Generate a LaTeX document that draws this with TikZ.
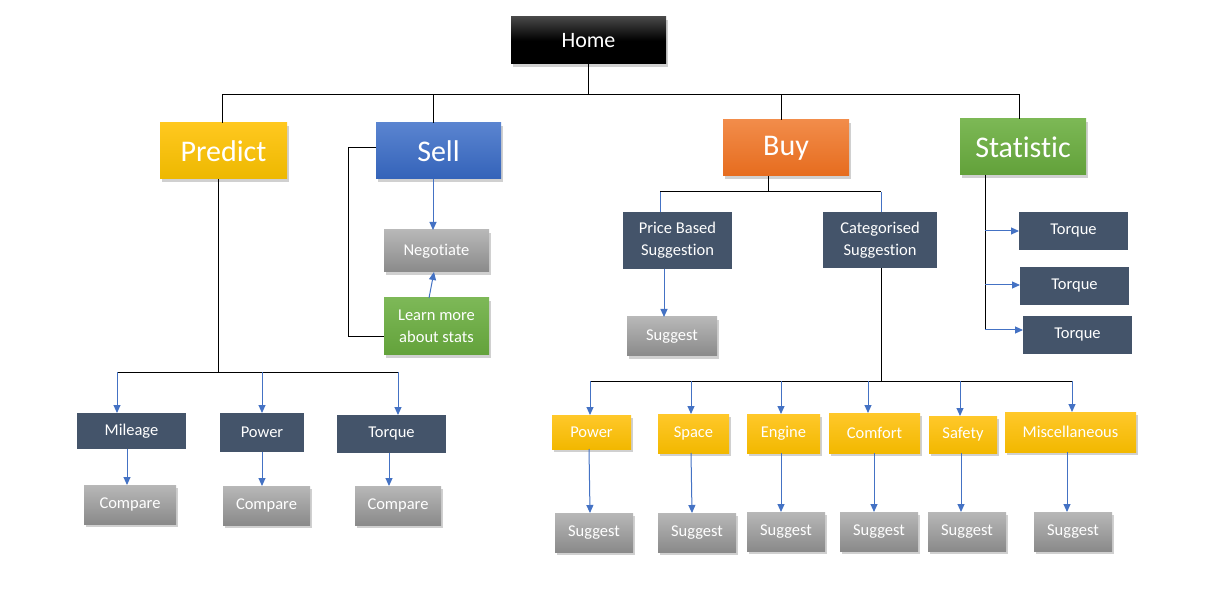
\documentclass[tikz,border=0pt]{standalone}
\usepackage{fontspec}
\setmainfont{Carlito}[Ligatures=NoCommon]
\usetikzlibrary{shadows,arrows.meta}
\definecolor{slate}{HTML}{44546A}
\definecolor{arrowblue}{HTML}{4472C4}
\newcommand\mknode[7]{\node[#2, minimum width={(#5-#3)*1pt}, minimum height={(#6-#4)*1pt}] (#1) at ({(#3+#5)/2},{(#4+#6)/2}) {#7};}
\definecolor{yelT}{HTML}{FFC81F}
\definecolor{yelB}{HTML}{EDB800}
\definecolor{ysT}{HTML}{FFC82A}
\definecolor{ysB}{HTML}{F2B800}
\definecolor{lgT}{HTML}{7DB857}
\definecolor{lgB}{HTML}{63A23B}
\definecolor{blueT}{HTML}{5A84D0}
\definecolor{blueB}{HTML}{3463B9}
\definecolor{orangeT}{HTML}{F28C4A}
\definecolor{orangeB}{HTML}{E66C1E}
\definecolor{greenT}{HTML}{7CB855}
\definecolor{greenB}{HTML}{62A13A}
\tikzset{
  base/.style={inner sep=0pt, outer sep=0pt, text=white, align=center},
  shad/.style={drop shadow={shadow xshift=2pt, shadow yshift=-3pt, opacity=0.3, fill=black!60}},
  homebox/.style={base, shad, top color=black!72, bottom color=black, middle color=black, font=\fontsize{22}{26}\selectfont},
  bigbox/.style={base, shad, font=\fontsize{30}{34}\selectfont},
  slatebox/.style={base, fill=slate, font=\fontsize{16.5}{22}\selectfont},
  graybox/.style={base, shad, top color=black!28, bottom color=black!46, font=\fontsize{16.5}{22}\selectfont},
  ybox/.style={base, shad, top color=ysT, bottom color=ysB, font=\fontsize{16.5}{22}\selectfont},
  gbox/.style={base, shad, top color=lgT, bottom color=lgB, font=\fontsize{16.5}{22}\selectfont},
  conn/.style={draw=black, line width=1pt},
  bconn/.style={draw=arrowblue, line width=1pt},
  arr/.style={draw=arrowblue, line width=1pt, -{Triangle[length=8pt,width=7pt]}},
}
\begin{document}
\begin{tikzpicture}[x=1pt,y=-1pt]
\fill[white] (0,0) rectangle (1215,601);
\useasboundingbox (0,0) rectangle (1215,601);

% level 0 and 1
\mknode{home}{homebox}{511}{17}{666}{64}{Home}
\mknode{predict}{bigbox, top color=yelT, bottom color=yelB}{160}{123}{287}{179}{Predict}
\mknode{sell}{bigbox, top color=blueT, bottom color=blueB}{376}{123}{501}{179}{Sell}
\mknode{buy}{bigbox, top color=orangeT, bottom color=orangeB}{723}{120}{849}{176}{Buy}
\mknode{statistic}{bigbox, top color=greenT, bottom color=greenB}{960}{119}{1086}{175}{Statistic}

% Predict subtree
\mknode{mileage}{slatebox}{77}{413}{186}{449}{Mileage}
\mknode{ppower}{slatebox}{220}{413}{304}{452}{Power}
\mknode{ptorque}{slatebox}{337}{415}{446}{453}{Torque}
\mknode{cmp1}{graybox}{84}{485}{176}{524}{Compare}
\mknode{cmp2}{graybox}{223}{486}{310}{525}{Compare}
\mknode{cmp3}{graybox}{355}{486}{441}{525}{Compare}

% Sell subtree
\mknode{negotiate}{graybox}{384}{230}{489}{272}{Negotiate}
\mknode{learn}{gbox}{384}{298}{489}{355}{Learn more\\about stats}

% Buy subtree
\mknode{price}{slatebox}{623}{212}{732}{269}{Price Based\\Suggestion}
\mknode{cat}{slatebox}{823}{212}{937}{268}{Categorised\\Suggestion}
\mknode{psug}{graybox}{627}{317}{717}{356}{Suggest}
\mknode{cpower}{ybox}{552}{415}{631}{449}{Power}
\mknode{space}{ybox}{658}{414}{729}{453}{Space}
\mknode{engine}{ybox}{747}{414}{820}{453}{Engine}
\mknode{comfort}{ybox}{829}{413}{920}{453}{Comfort}
\mknode{safety}{ybox}{929}{416}{997}{453}{Safety}
\mknode{misc}{ybox}{1005}{412}{1136}{452}{Miscellaneous}
\mknode{s1}{graybox}{555}{513}{633}{552}{Suggest}
\mknode{s2}{graybox}{658}{513}{736}{552}{Suggest}
\mknode{s3}{graybox}{747}{512}{825}{551}{Suggest}
\mknode{s4}{graybox}{840}{512}{918}{551}{Suggest}
\mknode{s5}{graybox}{928}{512}{1006}{551}{Suggest}
\mknode{s6}{graybox}{1034}{512}{1112}{551}{Suggest}

% Statistic subtree
\mknode{t1}{slatebox}{1019}{212}{1128}{250}{Torque}
\mknode{t2}{slatebox}{1020}{267}{1129}{305}{Torque}
\mknode{t3}{slatebox}{1023}{316}{1132}{354}{Torque}

% Home connectors
\draw[conn] (home.south) -- (home.south |- 0,95);
\draw[conn] (predict.north -| 222,0) -- (222,95) -- (1019,95) -- (statistic.north -| 1019,0);
\draw[conn] (sell.north -| 433,0) -- (433,95);
\draw[conn] (buy.north -| 781,0) -- (781,95);

% Predict connectors
\coordinate (pb) at (218,372);
\draw[conn] (predict.south -| pb) -- (pb);
\draw[conn] (117,372) -- (398,372);
\draw[arr] (117,372) -- (mileage.north -| 117,0);
\draw[arr] (262,372) -- (ppower.north -| 262,0);
\draw[arr] (398,372) -- (ptorque.north -| 398,0);
\draw[arr] (mileage.south -| 127,0) -- (cmp1.north -| 127,0);
\draw[arr] (ppower.south -| 262,0) -- (cmp2.north -| 262,0);
\draw[arr] (ptorque.south -| 389,0) -- (cmp3.north -| 389,0);

% Sell connectors
\draw[conn] (sell.west |- 0,148) -- (348,148) |- (learn.west |- 0,337);
\draw[arr] (sell.south -| 433,0) -- (negotiate.north -| 433,0);
\draw[arr] (learn.north -| 429,0) -- (negotiate.south -| 434,0);

% Buy connectors
\draw[conn] (buy.south -| 768,0) -- (768,192);
\draw[conn] (660,192) -- (881,192);
\draw[bconn] (660,192) -- (price.north -| 660,0);
\draw[bconn] (881,192) -- (cat.north -| 881,0);
\draw[arr] (price.south -| 664,0) -- (psug.north -| 664,0);
\draw[conn] (cat.south -| 881,0) -- (881,381);
\draw[conn] (590,381) -- (1072,381);
\draw[arr] (590,381) -- (cpower.north -| 590,0);
\draw[arr] (691,381) -- (space.north -| 691,0);
\draw[arr] (781,381) -- (engine.north -| 781,0);
\draw[arr] (868,381) -- (comfort.north -| 868,0);
\draw[arr] (960,381) -- (safety.north -| 960,0);
\draw[arr] (1072,381) -- (misc.north -| 1072,0);
\draw[arr] (cpower.south -| 589,0) -- (s1.north -| 590,0);
\draw[arr] (space.south -| 691,0) -- (s2.north -| 692,0);
\draw[arr] (engine.south -| 781,0) -- (s3.north -| 781,0);
\draw[arr] (comfort.south -| 874,0) -- (s4.north -| 874,0);
\draw[arr] (safety.south -| 961,0) -- (s5.north -| 961,0);
\draw[arr] (misc.south -| 1067,0) -- (s6.north -| 1067,0);

% Statistic connectors
\draw[conn] (statistic.south -| 985,0) -- (985,330);
\draw[arr] (985,231) -- (t1.west |- 0,231);
\draw[arr] (985,285) -- (t2.west |- 0,285);
\draw[arr] (985,330) -- (t3.west |- 0,330);
\end{tikzpicture}
\end{document}
